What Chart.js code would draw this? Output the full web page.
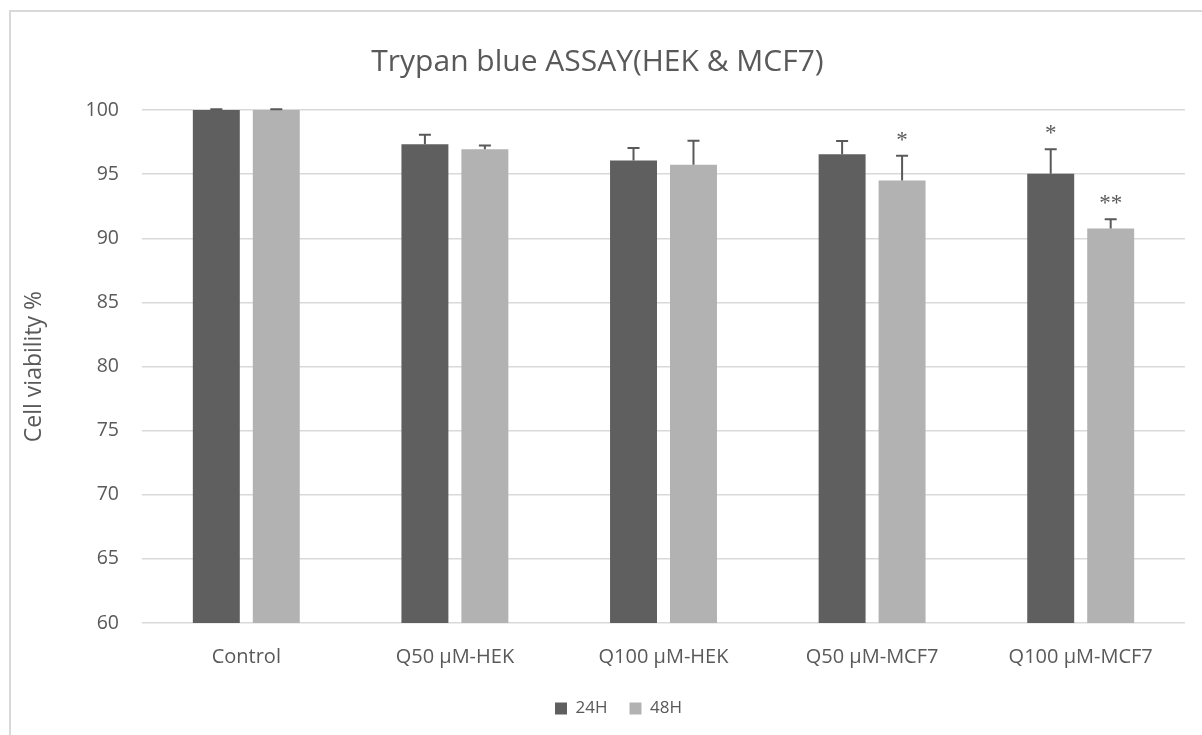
<!DOCTYPE html>
<html>
<head>
<meta charset="utf-8">
<script src="https://cdn.jsdelivr.net/npm/chart.js@4.4.1/dist/chart.umd.min.js"></script>
<style>
  html, body { margin: 0; padding: 0; background: #ffffff; }
  #wrap { width: 1202px; height: 735px; position: relative; }
</style>
</head>
<body>
<div id="wrap"><canvas id="chart" width="1202" height="735"></canvas></div>
<script>
// Treatment groups
const categories = ['Control', 'Q50 \u03bcM-HEK', 'Q100 \u03bcM-HEK', 'Q50 \u03bcM-MCF7', 'Q100 \u03bcM-MCF7'];

// Mean cell viability (%) per time point
const viability24H = [100, 97.32, 96.07, 96.54, 95.02];
const viability48H = [100, 96.93, 95.73, 94.50, 90.76];

// Standard deviation (plus direction)
const error24H = [0.05, 0.75, 0.96, 1.04, 1.91];
const error48H = [0.05, 0.31, 1.88, 1.93, 0.72];

// Significance marks above the error bars
const sig24H = ['', '', '', '', '*'];
const sig48H = ['', '', '', '*', '**'];

// Y axis
const yMin = 60, yMax = 100, yStep = 5;

const TEXT = '#595959';
const GRID = '#d9d9d9';
const FONT = '"Open Sans", Lato, sans-serif';

// Outer frame of the chart
const framePlugin = {
  id: 'frame',
  beforeDraw(chart) {
    const ctx = chart.ctx;
    ctx.save();
    ctx.fillStyle = '#ffffff';
    ctx.fillRect(0, 0, chart.width, chart.height);
    ctx.strokeStyle = GRID;
    ctx.lineWidth = 2;
    ctx.strokeRect(10, 11, chart.width + 50, chart.height + 50);
    ctx.restore();
  }
};

// Nudge the legend a little to the right of the plot centre
const legendShiftPlugin = {
  id: 'legendShift',
  afterLayout(chart) {
    if (chart.legend) {
      chart.legend.left += 21;
      chart.legend.right += 21;
    }
  }
};

// Error bars with caps plus significance asterisks
const errorBarPlugin = {
  id: 'errorBars',
  afterDatasetsDraw(chart) {
    const ctx = chart.ctx;
    const y = chart.scales.y;
    const errs = [error24H, error48H];
    const sigs = [sig24H, sig48H];
    ctx.save();
    chart.data.datasets.forEach((ds, di) => {
      const meta = chart.getDatasetMeta(di);
      meta.data.forEach((bar, i) => {
        const v = ds.data[i];
        const top = y.getPixelForValue(v + errs[di][i]);
        const base = y.getPixelForValue(v);
        ctx.strokeStyle = TEXT;
        ctx.lineWidth = 2;
        ctx.beginPath();
        ctx.moveTo(bar.x, base);
        ctx.lineTo(bar.x, top);
        ctx.moveTo(bar.x - 6, top);
        ctx.lineTo(bar.x + 6, top);
        ctx.stroke();
        const s = sigs[di][i];
        if (s) {
          ctx.fillStyle = TEXT;
          ctx.font = '23px "Liberation Serif", "DejaVu Serif", serif';
          ctx.textAlign = 'center';
          ctx.textBaseline = 'alphabetic';
          ctx.fillText(s, bar.x, top - 9);
        }
      });
    });
    ctx.restore();
  }
};

const ctx = document.getElementById('chart').getContext('2d');
new Chart(ctx, {
  type: 'bar',
  data: {
    labels: categories,
    datasets: [
      {
        label: '24H',
        data: viability24H,
        backgroundColor: '#5f5f5f',
        borderWidth: 0,
        barPercentage: 0.783,
        categoryPercentage: 0.575
      },
      {
        label: '48H',
        data: viability48H,
        backgroundColor: '#b2b2b2',
        borderWidth: 0,
        barPercentage: 0.783,
        categoryPercentage: 0.575
      }
    ]
  },
  options: {
    responsive: false,
    animation: false,
    devicePixelRatio: 1,
    layout: { padding: { left: 10, right: 17, top: 12, bottom: 8 } },
    plugins: {
      title: {
        display: true,
        text: 'Trypan blue ASSAY(HEK & MCF7)',
        color: TEXT,
        font: { family: FONT, size: 30, weight: 'normal' },
        padding: { top: 32, bottom: 30 }
      },
      legend: {
        display: true,
        position: 'bottom',
        labels: {
          color: TEXT,
          font: { family: FONT, size: 17 },
          boxWidth: 12,
          boxHeight: 12,
          padding: 22
        }
      },
      tooltip: { enabled: false }
    },
    scales: {
      x: {
        grid: { display: false, drawTicks: false },
        border: { display: false },
        ticks: {
          color: TEXT,
          font: { family: FONT, size: 20 },
          padding: 22,
          maxRotation: 0
        },
        afterFit(scale) { scale.height = 55; }
      },
      y: {
        min: yMin,
        max: yMax,
        grid: { color: GRID, lineWidth: 1.5, drawTicks: false },
        border: { display: false },
        ticks: {
          stepSize: yStep,
          color: TEXT,
          font: { family: FONT, size: 19.5 },
          padding: 23
        },
        title: {
          display: true,
          text: 'Cell viability %',
          color: TEXT,
          font: { family: FONT, size: 23 },
          padding: { top: 11, bottom: 0 }
        },
        afterFit(scale) { scale.width = 132; }
      }
    }
  },
  plugins: [framePlugin, legendShiftPlugin, errorBarPlugin]
});
</script>
</body>
</html>
